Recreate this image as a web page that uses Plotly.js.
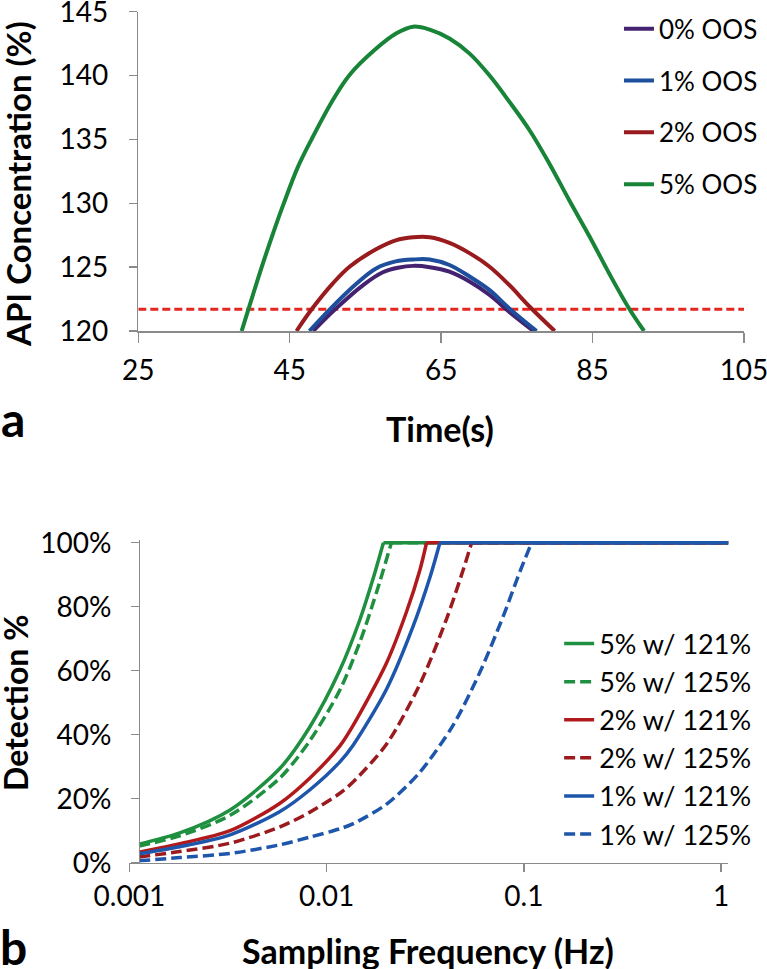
<!DOCTYPE html>
<html>
<head>
<meta charset="utf-8">
<script src="https://cdn.plot.ly/plotly-3.0.1.min.js"></script>
<style>
    html, body { margin: 0; padding: 0; background: #fff; overflow: hidden; }
    #chart { width: 767px; height: 969px; }
</style>
</head>
<body>
<div id="chart"></div>
<script>
    // panel a: API concentration vs time
    var timeOos0 = [48.1, 51.0, 54.7, 57.3, 59.3, 61.3, 63.5, 66.1, 68.8, 71.4, 74.0, 77.2];
    var concOos0 = [120, 121.7, 123.6, 124.6, 124.95, 125.1, 125.0, 124.65, 123.86, 122.82, 121.5, 120];
    var timeOos1 = [47.6, 50.3, 53.8, 56.4, 59.0, 61.3, 63.5, 66.1, 68.8, 71.4, 74.0, 77.6];
    var concOos1 = [120, 121.7, 123.7, 124.9, 125.45, 125.6, 125.6, 125.17, 124.25, 123.2, 121.77, 120];
    var timeOos2 = [45.9, 47.9, 50.7, 52.9, 56.4, 59.0, 61.3, 63.5, 66.1, 68.8, 71.4, 74.0, 76.7, 80.0];
    var concOos2 = [120, 121.7, 123.73, 125.03, 126.4, 127.1, 127.34, 127.34, 126.9, 126.08, 125.03, 123.6, 121.9, 120];
    var timeOos5 = [38.65, 41.3, 42.8, 44.25, 46.1, 47.9, 50.7, 52.9, 56.2, 59.1, 61.3, 63.5, 66.1, 68.8, 71.4, 74.0, 76.7, 79.3, 81.9, 84.6, 87.2, 89.8, 91.8];
    var concOos5 = [120, 125.0, 127.65, 130.05, 132.87, 135.03, 138.09, 140.05, 142.0, 143.31, 143.83, 143.6, 142.9, 141.7, 140.0, 137.96, 135.7, 133.1, 130.26, 127.4, 124.5, 121.78, 120];
    var limitTime = [25, 105];
    var limitConc = [121.7, 121.7];

    // panel b: detection % vs sampling frequency (rising part, then flat at 100%)
    var freq5at121 = [0.00112, 0.0018, 0.00324, 0.0058, 0.00823, 0.01167, 0.01475, 0.0172, 0.0194];
    var det5at121 = [5.8, 9.3, 16.5, 29.5, 42.5, 60.2, 76, 88.8, 100];
    var freq5at125 = [0.00112, 0.0018, 0.00324, 0.0058, 0.00823, 0.01167, 0.01475, 0.0179, 0.0213];
    var det5at125 = [5.2, 8.4, 14.8, 26.5, 38.2, 54, 69, 84.5, 100];
    var freq2at121 = [0.00112, 0.0018, 0.00324, 0.0058, 0.00823, 0.01167, 0.01365, 0.02014, 0.02543, 0.0297, 0.0321];
    var det2at121 = [3.3, 5.9, 10, 18.6, 26.5, 36.5, 43, 62.5, 78.5, 91.5, 100];
    var freq2at125 = [0.00112, 0.0018, 0.00324, 0.0058, 0.00823, 0.01167, 0.01365, 0.02014, 0.0297, 0.0406, 0.0492, 0.0543];
    var det2at125 = [1.8, 3.5, 6.1, 11.2, 15.8, 21.7, 25.3, 37.1, 55.8, 76.3, 91.5, 100];
    var freq1at121 = [0.00112, 0.0018, 0.00324, 0.0058, 0.00823, 0.01167, 0.01365, 0.02014, 0.02748, 0.0334, 0.0375];
    var det1at121 = [2.8, 5, 8.7, 16, 22.8, 31.5, 36.8, 54.3, 74, 89.2, 100];
    var freq1at125 = [0.00112, 0.0018, 0.00324, 0.0058, 0.00823, 0.01167, 0.01365, 0.02014, 0.0297, 0.0438, 0.0598, 0.0785, 0.0955, 0.1094];
    var det1at125 = [0.6, 1.6, 2.9, 5.6, 8, 10.6, 12.2, 18.3, 28.3, 43, 59.5, 77, 91, 100];
    var freqEnd = 1.09;
    var detMax = 100;

    var timeTicks = [25, 45, 65, 85, 105];
    var concTicks = [120, 125, 130, 135, 140, 145];
    var freqTicks = [0.001, 0.01, 0.1, 1];
    var freqTickText = ['0.001', '0.01', '0.1', '1'];
    var detTicks = [0, 20, 40, 60, 80, 100];
    var detTickText = ['0%', '20%', '40%', '60%', '80%', '100%'];

    var FONT = 'Lato, "Open Sans", sans-serif';
    var DASH = '11px,5px';

    function topTrace(x, y, name, color) {
        return {
            x: x, y: y, name: name, mode: 'lines',
            line: {color: color, width: 4, shape: 'spline', smoothing: 1},
            xaxis: 'x', yaxis: 'y', legend: 'legend', legendgroup: name
        };
    }

    // rising curve plus its plateau at 100%, sharing one legend entry
    function bottomTraces(x, y, name, color, dash) {
        var rise = {
            x: x, y: y, name: name, mode: 'lines',
            line: {color: color, width: 3.5, dash: dash, shape: 'spline', smoothing: 0.8},
            xaxis: 'x2', yaxis: 'y2', legend: 'legend2', legendgroup: name
        };
        var flat = {
            x: [x[x.length - 1], freqEnd], y: [detMax, detMax], name: name, mode: 'lines',
            line: {color: color, width: 3.5, dash: dash},
            xaxis: 'x2', yaxis: 'y2', legend: 'legend2', legendgroup: name, showlegend: false
        };
        return [rise, flat];
    }

    var data = [
        {
            x: limitTime, y: limitConc, mode: 'lines', showlegend: false,
            line: {color: '#e3261f', width: 3, dash: '8px,4px'},
            xaxis: 'x', yaxis: 'y'
        },
        topTrace(timeOos0, concOos0, '0% OOS', '#43226f'),
        topTrace(timeOos1, concOos1, '1% OOS', '#1d4f9c'),
        topTrace(timeOos2, concOos2, '2% OOS', '#991b1e'),
        topTrace(timeOos5, concOos5, '5% OOS', '#178438')
    ].concat(
        bottomTraces(freq5at121, det5at121, '5% w/ 121%', '#1e9040', 'solid'),
        bottomTraces(freq5at125, det5at125, '5% w/ 125%', '#1e9040', DASH),
        bottomTraces(freq2at121, det2at121, '2% w/ 121%', '#b01a1c', 'solid'),
        bottomTraces(freq2at125, det2at125, '2% w/ 125%', '#9a1a1e', DASH),
        bottomTraces(freq1at121, det1at121, '1% w/ 121%', '#1d56aa', 'solid'),
        bottomTraces(freq1at125, det1at125, '1% w/ 125%', '#1d56aa', DASH)
    );

    var axisBase = {
        showline: true, linecolor: '#8a8a8a', linewidth: 1.5,
        ticks: 'outside', tickcolor: '#8a8a8a', tickwidth: 1.5,
        showgrid: false, zeroline: false, fixedrange: true,
        ticklabeloverflow: 'allow',
        tickfont: {family: FONT, size: 28, color: '#000'}
    };

    function axis(extra) {
        return Object.assign({}, axisBase, extra);
    }

    function titleFont(size) {
        return {family: FONT, size: size, color: '#000', weight: 'bold'};
    }

    function label(text, x, y, size, angle) {
        return {
            text: text, textangle: angle || 0, xref: 'paper', yref: 'paper',
            x: x / 767, y: 1 - y / 969, xanchor: 'center', yanchor: 'middle',
            showarrow: false, font: titleFont(size)
        };
    }

    var layout = {
        width: 767,
        height: 969,
        margin: {l: 0, r: 0, t: 0, b: 0, autoexpand: false},
        paper_bgcolor: '#fff',
        plot_bgcolor: 'rgba(0,0,0,0)',
        font: {family: FONT, color: '#000'},
        showlegend: true,
        xaxis: axis({
            domain: [0.1803, 0.970], range: [25, 105], anchor: 'y',
            tickvals: timeTicks, ticklen: 10, ticklabelstandoff: 4
        }),
        yaxis: axis({
            domain: [0.6584, 0.9879], range: [120, 145], anchor: 'x',
            tickvals: concTicks, ticklen: 8, ticklabelstandoff: 15
        }),
        xaxis2: axis({
            type: 'log', domain: [0.1687, 0.9495], range: [-3, 0.036], anchor: 'y2',
            tickvals: freqTicks, ticktext: freqTickText, ticklen: 8, ticklabelstandoff: 0
        }),
        yaxis2: axis({
            domain: [0.1097, 0.4432], range: [0, 101], anchor: 'free', position: 0.1812,
            tickvals: detTicks, ticklen: 8,
            // the free axis ignores ticklabelstandoff, so pad the labels with an en space
            ticktext: detTickText.map(function (t) { return t + '\u2002'; })
        }),
        legend: {
            x: 0.807, xanchor: 'left', y: 0.9945, yanchor: 'top',
            bgcolor: 'rgba(0,0,0,0)', tracegroupgap: 15,
            font: {family: FONT, size: 26, color: '#000'}
        },
        legend2: {
            x: 0.729, xanchor: 'left', y: 0.3607, yanchor: 'top',
            bgcolor: 'rgba(0,0,0,0)', tracegroupgap: 0,
            font: {family: FONT, size: 27, color: '#000'}
        },
        annotations: [
            label('API Concentration (%)', 18, 184, 33, -90),
            label('Time(s)', 440, 428, 34),
            label('Detection %', 15, 703, 32, -90),
            label('Sampling Frequency (Hz)', 428, 950, 34),
            label('a', 13, 418.5, 48),
            label('b', 13, 946, 48)
        ]
    };

    Plotly.newPlot('chart', data, layout, {displayModeBar: false, staticPlot: true});
</script>
</body>
</html>
